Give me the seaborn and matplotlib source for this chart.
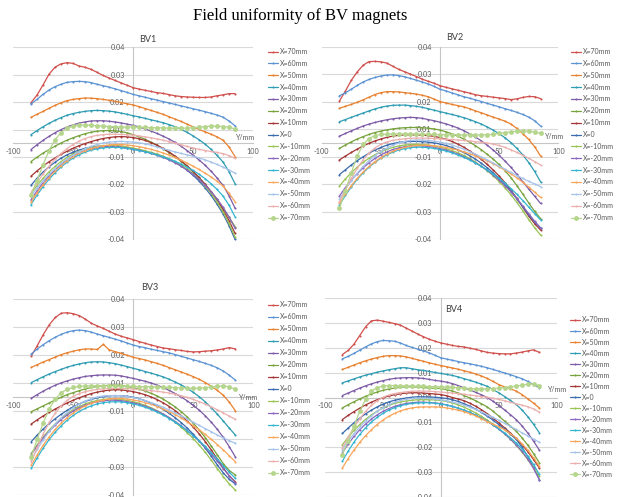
import numpy as np
import matplotlib
matplotlib.use('Agg')
import matplotlib.pyplot as plt
import seaborn as sns

sns.set_theme(style='white')
plt.rcParams['font.family'] = ['Lato', 'DejaVu Sans']

# measuring positions along Y (mm)
y_pos = [-85, -80, -75, -70, -65, -60, -55, -50, -45, -40, -35, -30, -25, -20, -15, -10, -5, 0,
         5, 10, 15, 20, 25, 30, 35, 40, 45, 50, 55, 60, 65, 70, 75, 80, 85]

labels = ['X=70mm', 'X=60mm', 'X=50mm', 'X=40mm', 'X=30mm', 'X=20mm', 'X=10mm', 'X=0',
          'X=-10mm', 'X=-20mm', 'X=-30mm', 'X=-40mm', 'X=-50mm', 'X=-60mm', 'X=-70mm']

colors = ['#d0504d', '#5b93d3', '#e8812f', '#2e9cb3', '#7d5ba6', '#77a33c', '#a33634', '#3a6bae',
          '#98c454', '#8b66bd', '#33b5d0', '#f9a55a', '#a6c3ea', '#ebb0ae', '#b5d58c']

# field uniformity values, in units of 1e-3 (one row per X position)
bv1 = [
    [16.9, 20.1, 24.3, 28.8, 31.7, 33.1, 33.6, 33.3, 32.2, 31.7, 30.8, 29.6, 28.3, 27.2, 26.2, 25.2, 24.2, 23.2, 22.6, 22.1, 21.6, 21.1, 20.8, 20.3, 19.8, 19.5, 19.3, 19.2, 19.1, 19.1, 19.3, 19.8, 20.2, 20.7, 20.7],
    [16.4, 18.3, 20.4, 22.2, 23.6, 24.6, 25.4, 25.7, 25.8, 25.7, 25.3, 24.6, 24.0, 23.4, 22.7, 22.0, 21.2, 20.4, 19.8, 19.2, 18.6, 18.0, 17.4, 16.8, 16.2, 15.6, 15.0, 14.4, 13.8, 13.2, 12.5, 11.8, 10.9, 9.3, 7.3],
    [10.8, 12.1, 13.3, 14.6, 15.8, 16.9, 17.8, 18.3, 18.6, 18.9, 18.8, 18.6, 18.3, 17.9, 17.5, 17.0, 16.5, 16.0, 15.3, 14.5, 13.7, 12.9, 12.1, 11.1, 10.1, 9.1, 8.0, 6.9, 5.8, 4.8, 3.8, 2.7, 1.3, -1.5, -5.5],
    [3.6, 5.3, 6.9, 8.3, 9.6, 10.7, 11.7, 12.4, 12.9, 13.3, 13.6, 13.7, 13.6, 13.4, 13.1, 12.6, 12.1, 11.5, 11.0, 10.4, 9.8, 9.2, 8.6, 7.8, 6.9, 5.8, 4.6, 3.1, 1.5, -0.3, -2.5, -5.0, -7.8, -11.8, -16.8],
    [-2.6, -0.6, 1.2, 2.9, 4.4, 5.7, 6.8, 7.7, 8.4, 8.9, 9.3, 9.4, 9.4, 9.2, 8.9, 8.5, 8.0, 7.5, 6.8, 6.0, 5.1, 4.1, 3.0, 1.8, 0.4, -1.2, -3.0, -4.9, -6.9, -9.1, -11.6, -14.4, -17.5, -21.8, -27.0],
    [-7.6, -5.8, -4.1, -2.6, -1.2, 0.1, 1.3, 2.3, 3.2, 4.0, 4.6, 5.0, 5.3, 5.3, 5.2, 4.9, 4.4, 3.6, 2.7, 1.7, 0.5, -0.8, -2.3, -3.9, -5.6, -7.5, -9.6, -11.9, -14.4, -17.1, -20.1, -23.4, -27.0, -30.8, -34.7],
    [-13.7, -11.5, -9.5, -7.7, -6.1, -4.6, -3.3, -2.1, -1.0, -0.1, 0.7, 1.4, 2.0, 2.4, 2.7, 2.8, 2.7, 2.4, 1.9, 1.2, 0.3, -0.8, -2.1, -3.6, -5.3, -7.2, -9.3, -11.6, -14.2, -17.0, -20.1, -23.6, -27.6, -32.2, -37.5],
    [-17.5, -14.6, -12.0, -9.8, -7.9, -6.2, -4.8, -3.7, -2.8, -2.1, -1.6, -1.3, -1.2, -1.2, -1.3, -1.6, -2.0, -2.3, -2.8, -3.3, -3.9, -4.6, -5.5, -6.6, -7.9, -9.4, -11.2, -13.3, -15.7, -18.5, -21.7, -25.3, -29.4, -34.3, -40.0],
    [-21.0, -17.6, -14.6, -11.9, -9.6, -7.6, -5.9, -4.5, -3.4, -2.5, -1.8, -1.3, -1.0, -0.9, -0.9, -1.1, -1.5, -2.0, -2.5, -3.1, -3.8, -4.5, -5.4, -6.4, -7.6, -9.0, -10.7, -12.7, -15.0, -17.7, -20.8, -24.4, -28.6, -33.4, -38.9],
    [-23.5, -19.8, -16.5, -13.6, -11.1, -8.9, -7.0, -5.4, -4.1, -3.1, -2.3, -1.8, -1.5, -1.4, -1.4, -1.6, -2.0, -2.4, -2.9, -3.5, -4.2, -5.0, -5.9, -6.9, -8.1, -9.5, -11.1, -12.9, -15.0, -17.4, -20.1, -23.1, -26.6, -30.7, -35.4],
    [-25.5, -21.6, -18.1, -15.0, -12.3, -9.9, -7.9, -6.2, -4.8, -3.7, -2.9, -2.3, -1.9, -1.7, -1.7, -1.8, -2.1, -2.5, -3.0, -3.5, -4.1, -4.8, -5.6, -6.5, -7.5, -8.6, -9.9, -11.3, -12.9, -14.7, -16.8, -19.2, -22.0, -25.8, -30.6],
    [-24.5, -20.7, -17.3, -14.3, -11.6, -9.3, -7.3, -5.6, -4.2, -3.1, -2.2, -1.5, -1.0, -0.7, -0.5, -0.5, -0.7, -1.0, -1.4, -1.9, -2.5, -3.2, -4.0, -4.9, -5.9, -7.0, -8.2, -9.5, -10.9, -12.4, -14.0, -15.8, -17.8, -20.8, -24.3],
    [-22.0, -18.6, -15.6, -12.9, -10.5, -8.4, -6.5, -4.9, -3.5, -2.3, -1.3, -0.5, 0.1, 0.5, 0.7, 0.8, 0.7, 0.5, 0.2, -0.2, -0.8, -1.5, -2.2, -2.9, -3.6, -4.2, -4.8, -5.4, -6.1, -6.9, -7.8, -8.8, -9.9, -11.1, -12.4],
    [-20.5, -16.5, -12.8, -9.5, -6.6, -4.2, -2.2, -0.5, 0.9, 2.0, 2.8, 3.3, 3.6, 3.8, 3.8, 3.7, 3.6, 3.4, 3.1, 2.7, 2.3, 1.8, 1.3, 0.7, 0.1, -0.6, -1.3, -1.9, -2.5, -3.0, -3.4, -3.8, -4.3, -5.1, -6.3],
    [-21.5, -15.5, -9.0, -3.0, 1.5, 4.5, 6.3, 7.2, 7.6, 7.6, 7.5, 7.3, 7.2, 7.0, 6.9, 6.8, 6.8, 6.8, 6.7, 6.6, 6.5, 6.5, 6.4, 6.3, 6.2, 6.3, 6.3, 6.5, 6.7, 7.0, 7.1, 7.1, 7.0, 6.8, 5.9],
]

bv2 = [
    [17.4, 21.5, 26.0, 29.5, 32.3, 33.8, 33.9, 33.7, 33.2, 31.9, 30.6, 29.6, 28.6, 27.6, 26.5, 25.6, 24.8, 23.8, 23.1, 22.5, 21.9, 21.3, 20.7, 20.0, 19.6, 19.3, 19.0, 18.7, 18.4, 18.0, 18.3, 18.9, 19.3, 19.2, 18.4],
    [19.6, 20.8, 22.3, 23.9, 25.3, 26.4, 27.2, 27.8, 28.2, 28.3, 28.0, 27.5, 26.8, 26.1, 25.3, 24.5, 23.5, 22.3, 21.6, 20.8, 20.0, 19.2, 18.6, 17.9, 17.2, 16.4, 15.7, 15.0, 14.2, 13.5, 12.7, 11.8, 10.7, 9.2, 7.0],
    [14.4, 15.2, 16.0, 16.9, 17.9, 19.0, 20.1, 20.9, 21.3, 21.3, 21.2, 20.9, 20.6, 20.3, 19.8, 19.2, 18.2, 17.2, 16.6, 16.0, 15.5, 15.0, 14.2, 13.3, 12.5, 11.6, 10.7, 9.9, 9.0, 7.8, 6.0, 3.8, 1.4, -1.6, -5.5],
    [8.8, 9.7, 10.6, 11.5, 12.4, 13.3, 14.1, 14.8, 15.3, 15.6, 15.7, 15.7, 15.5, 15.2, 14.8, 14.2, 13.6, 13.0, 12.4, 11.8, 11.2, 10.5, 9.7, 8.8, 7.8, 6.6, 5.3, 3.8, 2.1, 0.1, -2.3, -5.0, -8.2, -11.9, -16.2],
    [2.8, 3.9, 5.0, 6.0, 7.0, 7.8, 8.5, 9.1, 9.6, 10.0, 10.3, 10.5, 10.6, 10.5, 10.2, 9.7, 9.2, 8.6, 7.9, 7.1, 6.2, 5.1, 3.8, 2.4, 0.8, -1.0, -3.0, -5.2, -7.6, -10.2, -13.1, -16.2, -19.2, -22.2, -25.2],
    [-2.3, -0.9, 0.4, 1.6, 2.6, 3.5, 4.3, 4.9, 5.4, 5.8, 6.1, 6.3, 6.4, 6.4, 6.3, 6.1, 5.8, 5.3, 4.6, 3.8, 2.8, 1.6, 0.3, -1.2, -2.9, -4.8, -6.8, -9.0, -11.6, -14.5, -17.8, -21.3, -25.0, -28.5, -31.5],
    [-7.1, -5.5, -4.0, -2.6, -1.3, -0.2, 0.8, 1.6, 2.3, 2.8, 3.1, 3.3, 3.3, 3.3, 3.2, 3.0, 2.7, 2.2, 1.5, 0.6, -0.5, -1.8, -3.3, -5.0, -6.9, -9.0, -11.3, -13.8, -16.6, -19.7, -23.1, -26.8, -30.5, -33.6, -36.3],
    [-13.2, -11.2, -9.2, -7.4, -5.8, -4.3, -3.0, -1.9, -1.0, -0.3, 0.2, 0.5, 0.6, 0.6, 0.5, 0.3, 0.0, -0.5, -1.1, -1.9, -2.9, -4.0, -5.3, -6.8, -8.5, -10.4, -12.5, -14.8, -17.4, -20.2, -23.3, -26.6, -29.9, -32.8, -35.3],
    [-18.0, -15.0, -12.4, -10.1, -8.1, -6.4, -4.9, -3.7, -2.7, -1.9, -1.3, -0.9, -0.7, -0.6, -0.7, -0.9, -1.3, -1.8, -2.4, -3.2, -4.1, -5.2, -6.5, -8.0, -9.7, -11.6, -13.7, -16.1, -18.7, -21.6, -24.8, -28.3, -31.9, -35.3, -38.4],
    [-22.1, -18.6, -15.5, -12.8, -10.4, -8.3, -6.5, -5.0, -3.8, -2.8, -2.1, -1.6, -1.3, -1.2, -1.3, -1.5, -1.9, -2.4, -3.0, -3.8, -4.7, -5.7, -6.9, -8.3, -9.8, -11.5, -13.4, -15.5, -17.8, -20.4, -23.2, -26.3, -29.5, -32.6, -35.6],
    [-25.9, -21.9, -18.3, -15.2, -12.5, -10.1, -8.1, -6.4, -5.0, -3.9, -3.0, -2.4, -2.0, -1.8, -1.8, -2.0, -2.3, -2.8, -3.4, -4.1, -5.0, -6.0, -7.1, -8.4, -9.8, -11.3, -13.0, -14.8, -16.8, -19.0, -21.4, -24.0, -26.7, -29.4, -32.1],
    [-25.2, -21.3, -17.8, -14.8, -12.1, -9.8, -7.8, -6.1, -4.7, -3.5, -2.6, -1.9, -1.4, -1.1, -1.0, -1.0, -1.2, -1.5, -1.9, -2.4, -3.0, -3.7, -4.5, -5.4, -6.4, -7.5, -8.7, -10.0, -11.4, -12.9, -14.6, -16.4, -18.4, -20.5, -22.7],
    [-23.5, -19.4, -15.8, -12.6, -9.8, -7.4, -5.3, -3.6, -2.2, -1.0, -0.1, 0.6, 1.0, 1.2, 1.2, 1.0, 0.7, 0.3, -0.2, -0.9, -1.7, -2.6, -3.6, -4.7, -5.9, -7.1, -8.4, -9.7, -11.0, -12.3, -13.6, -14.8, -16.0, -17.1, -18.2],
    [-24.5, -19.5, -14.8, -10.6, -7.0, -4.2, -2.1, -0.6, 0.4, 1.0, 1.4, 1.7, 1.9, 2.0, 2.0, 1.9, 1.8, 1.7, 1.5, 1.4, 1.2, 1.0, 0.8, 0.5, 0.2, -0.1, -0.5, -1.1, -1.9, -2.9, -4.0, -5.2, -6.4, -7.8, -9.2],
    [-27.3, -20.0, -12.5, -5.5, -0.6, 1.8, 3.0, 3.5, 3.6, 3.7, 3.7, 3.7, 3.7, 3.6, 3.6, 3.5, 3.5, 3.4, 3.4, 3.4, 3.3, 3.3, 3.3, 3.3, 3.3, 3.4, 3.6, 3.9, 4.3, 4.6, 4.8, 4.9, 4.8, 4.5, 4.0],
]

bv3 = [
    [16.7, 21.0, 25.5, 29.5, 32.5, 34.2, 34.4, 34.0, 33.2, 31.8, 30.1, 29.0, 28.0, 26.8, 25.7, 24.8, 24.1, 23.4, 22.6, 21.9, 21.2, 20.6, 20.0, 19.7, 19.3, 19.0, 18.6, 18.4, 18.5, 18.7, 18.9, 19.2, 19.6, 20.2, 19.6],
    [17.6, 19.6, 21.4, 23.0, 24.4, 25.6, 26.5, 27.1, 27.3, 27.1, 26.5, 25.7, 25.0, 24.3, 23.6, 22.9, 22.0, 21.2, 20.6, 20.1, 19.5, 19.0, 18.5, 18.0, 17.3, 16.6, 15.9, 15.2, 14.5, 13.7, 12.9, 11.9, 10.6, 8.9, 6.9],
    [12.1, 13.2, 14.3, 15.3, 16.3, 17.3, 18.1, 18.7, 19.3, 19.6, 19.6, 19.4, 21.5, 19.2, 18.5, 17.8, 17.0, 16.2, 15.7, 15.1, 14.4, 13.7, 12.9, 12.0, 11.1, 10.2, 9.3, 8.3, 7.2, 5.9, 4.4, 2.7, 0.7, -2.1, -5.6],
    [5.9, 7.1, 8.3, 9.4, 10.4, 11.3, 12.2, 12.9, 13.5, 14.0, 14.3, 14.4, 14.3, 14.0, 13.6, 13.0, 12.4, 11.7, 11.1, 10.4, 9.7, 9.0, 8.2, 7.2, 6.1, 4.9, 3.5, 1.9, 0.1, -2.0, -4.4, -7.0, -9.8, -12.7, -15.5],
    [-0.5, 1.0, 2.4, 3.7, 4.8, 5.8, 6.6, 7.3, 7.9, 8.4, 8.7, 8.9, 9.0, 9.0, 8.9, 8.6, 8.1, 7.6, 7.0, 6.4, 5.7, 4.8, 3.8, 2.7, 1.4, 0.0, -1.6, -3.4, -5.4, -7.7, -10.3, -13.2, -16.5, -20.3, -24.4],
    [-6.0, -4.8, -3.6, -2.4, -1.2, -0.1, 1.0, 1.8, 2.6, 3.3, 3.9, 4.3, 4.6, 4.8, 4.9, 4.7, 4.3, 3.8, 3.2, 2.4, 1.5, 0.4, -0.9, -2.4, -4.1, -6.0, -8.2, -10.7, -13.5, -16.6, -20.0, -23.6, -27.2, -30.0, -31.8],
    [-11.0, -9.3, -7.7, -6.2, -4.9, -3.6, -2.4, -1.3, -0.3, 0.6, 1.4, 2.0, 2.5, 2.8, 3.0, 2.9, 2.6, 2.2, 1.6, 0.9, 0.0, -1.1, -2.4, -3.9, -5.6, -7.6, -9.8, -12.3, -15.1, -18.2, -21.6, -25.3, -29.0, -32.2, -34.6],
    [-18.2, -15.5, -13.0, -10.8, -8.8, -7.0, -5.4, -4.0, -2.8, -1.8, -1.0, -0.3, 0.2, 0.5, 0.6, 0.5, 0.3, -0.1, -0.7, -1.5, -2.5, -3.7, -5.1, -6.7, -8.5, -10.5, -12.7, -15.2, -17.9, -20.9, -24.2, -27.7, -31.0, -33.6, -35.5],
    [-23.0, -19.4, -16.2, -13.4, -10.9, -8.7, -6.8, -5.2, -3.9, -2.8, -2.0, -1.4, -1.0, -0.8, -0.8, -1.0, -1.4, -1.9, -2.6, -3.4, -4.4, -5.6, -7.0, -8.6, -10.4, -12.4, -14.6, -17.0, -19.7, -22.6, -25.8, -29.2, -32.5, -35.5, -38.0],
    [-23.5, -19.9, -16.7, -13.9, -11.4, -9.2, -7.3, -5.7, -4.4, -3.3, -2.5, -1.9, -1.5, -1.3, -1.3, -1.5, -1.9, -2.4, -3.0, -3.8, -4.7, -5.8, -7.0, -8.4, -10.0, -11.8, -13.7, -15.8, -18.1, -20.6, -23.3, -26.2, -29.2, -32.2, -35.0],
    [-29.1, -24.7, -20.8, -17.3, -14.3, -11.7, -9.4, -7.5, -5.9, -4.6, -3.6, -2.8, -2.3, -2.0, -1.9, -2.0, -2.3, -2.8, -3.4, -4.2, -5.1, -6.2, -7.4, -8.8, -10.3, -12.0, -13.8, -15.8, -17.9, -20.2, -22.7, -25.3, -28.0, -30.7, -33.2],
    [-27.8, -23.5, -19.6, -16.2, -13.2, -10.6, -8.4, -6.5, -4.9, -3.6, -2.6, -1.8, -1.2, -0.8, -0.6, -0.6, -0.8, -1.2, -1.7, -2.3, -3.0, -3.9, -4.9, -6.0, -7.2, -8.6, -10.1, -11.7, -13.4, -15.3, -17.3, -19.4, -21.6, -24.0, -26.4],
    [-25.7, -21.3, -17.4, -14.0, -11.0, -8.4, -6.2, -4.3, -2.8, -1.6, -0.7, 0.0, 0.4, 0.6, 0.6, 0.5, 0.2, -0.2, -0.8, -1.5, -2.3, -3.2, -4.2, -5.3, -6.5, -7.7, -9.0, -10.3, -11.6, -12.9, -14.2, -15.5, -16.7, -17.8, -18.9],
    [-26.4, -20.5, -15.0, -10.3, -6.5, -3.5, -1.3, 0.3, 1.4, 2.2, 2.7, 3.1, 3.3, 3.5, 3.5, 3.5, 3.4, 3.3, 3.1, 2.9, 2.6, 2.3, 2.0, 1.6, 1.1, 0.5, -0.2, -1.0, -1.9, -2.9, -4.0, -5.2, -6.5, -7.8, -9.1],
    [-24.4, -17.0, -10.5, -4.8, -0.8, 1.8, 3.2, 3.9, 4.3, 4.5, 4.6, 4.6, 4.6, 4.5, 4.5, 4.4, 4.4, 4.3, 4.2, 4.2, 4.2, 4.1, 4.0, 3.9, 3.8, 3.7, 3.6, 3.5, 3.6, 3.8, 4.1, 4.4, 4.5, 4.2, 3.1],
]

bv4 = [
    [17.3, 19.0, 21.5, 25.0, 28.5, 30.9, 31.2, 30.8, 30.3, 29.8, 29.2, 28.0, 26.8, 25.6, 24.5, 23.5, 22.7, 22.0, 21.5, 21.0, 20.6, 20.4, 19.9, 19.4, 18.8, 18.2, 17.9, 17.7, 17.6, 17.6, 17.9, 18.3, 18.8, 19.2, 18.2],
    [15.6, 16.6, 17.8, 19.1, 20.4, 21.6, 22.5, 23.0, 22.9, 22.7, 22.0, 21.0, 20.2, 19.5, 18.8, 18.0, 17.0, 16.0, 15.5, 15.0, 14.5, 14.0, 13.6, 13.1, 12.6, 12.0, 11.3, 10.6, 9.9, 9.2, 8.4, 7.6, 6.5, 5.2, 3.9],
    [11.3, 12.2, 13.1, 14.0, 14.8, 15.5, 16.1, 16.6, 16.9, 16.9, 16.8, 16.4, 15.8, 15.2, 14.6, 14.0, 13.4, 12.9, 12.4, 11.9, 11.4, 10.8, 10.2, 9.5, 8.7, 7.7, 6.5, 5.2, 4.3, 3.5, 2.6, 1.2, -0.5, -2.3, -4.2],
    [5.9, 6.7, 7.5, 8.3, 9.0, 9.6, 10.2, 10.7, 11.2, 11.6, 12.0, 12.0, 11.6, 11.2, 10.9, 10.5, 10.1, 9.7, 9.3, 8.9, 8.3, 7.6, 6.9, 6.2, 5.4, 4.5, 3.2, 1.9, 0.4, -1.2, -2.8, -5.0, -7.7, -10.8, -14.2],
    [0.8, 1.8, 2.8, 3.8, 4.7, 5.5, 6.2, 6.8, 7.3, 7.7, 7.9, 8.0, 8.0, 7.9, 7.7, 7.3, 6.9, 6.6, 6.2, 5.6, 4.8, 3.9, 3.1, 2.1, 1.1, 0.0, -1.5, -3.2, -5.0, -6.9, -8.9, -11.4, -14.3, -17.6, -21.2],
    [-4.2, -2.9, -1.7, -0.6, 0.5, 1.4, 2.2, 2.9, 3.4, 3.8, 4.1, 4.3, 4.3, 4.2, 4.0, 3.8, 3.7, 3.6, 3.2, 2.6, 1.8, 0.8, -0.2, -1.3, -2.5, -3.8, -5.5, -7.5, -9.5, -11.5, -13.6, -16.2, -19.2, -22.6, -26.3],
    [-8.9, -7.2, -5.7, -4.3, -3.0, -1.9, -0.9, -0.1, 0.6, 1.1, 1.5, 1.8, 1.9, 1.9, 1.8, 1.6, 1.4, 1.2, 0.7, 0.0, -0.6, -1.3, -2.3, -3.5, -4.9, -6.5, -8.3, -10.2, -12.2, -14.3, -16.5, -19.0, -21.8, -25.0, -28.4],
    [-14.5, -12.3, -10.2, -8.3, -6.6, -5.1, -3.8, -2.7, -1.8, -1.1, -0.6, -0.2, 0.1, 0.3, 0.3, 0.2, 0.1, -0.1, -0.4, -0.9, -1.6, -2.5, -3.5, -4.7, -6.0, -7.5, -9.1, -10.9, -12.8, -14.8, -16.9, -20.0, -23.8, -28.2, -33.1],
    [-19.0, -16.0, -13.3, -10.9, -8.8, -7.0, -5.5, -4.2, -3.2, -2.4, -1.8, -1.4, -1.1, -0.9, -0.9, -0.9, -1.0, -1.2, -1.6, -2.2, -3.0, -3.9, -5.0, -6.2, -7.6, -9.1, -10.8, -12.6, -14.6, -16.8, -19.2, -22.0, -25.0, -28.3, -31.7],
    [-22.3, -18.8, -15.7, -13.0, -10.7, -8.7, -7.0, -5.6, -4.5, -3.6, -2.9, -2.4, -2.1, -1.9, -1.9, -2.0, -2.2, -2.5, -3.0, -3.6, -4.3, -5.1, -6.0, -7.1, -8.3, -9.6, -11.1, -12.8, -14.6, -16.7, -19.0, -21.7, -24.8, -28.6, -33.1],
    [-25.7, -21.6, -18.0, -14.9, -12.2, -9.9, -8.0, -6.4, -5.1, -4.1, -3.3, -2.8, -2.4, -2.2, -2.1, -2.1, -2.3, -2.6, -3.0, -3.6, -4.3, -5.1, -6.0, -7.1, -8.3, -9.6, -11.0, -12.6, -14.3, -16.2, -18.3, -20.7, -23.6, -27.0, -31.0],
    [-28.4, -24.6, -21.2, -18.1, -15.4, -13.0, -10.9, -9.1, -7.6, -6.4, -5.4, -4.7, -4.2, -3.9, -3.8, -3.8, -3.8, -3.9, -4.2, -4.6, -5.1, -5.7, -6.5, -7.4, -8.5, -9.7, -10.8, -11.7, -13.0, -14.6, -16.3, -18.6, -21.2, -24.3, -27.7],
    [-21.0, -17.6, -14.6, -11.9, -9.5, -7.4, -5.6, -4.1, -2.9, -1.9, -1.2, -0.7, -0.4, -0.3, -0.3, -0.4, -0.6, -0.9, -1.3, -1.8, -2.4, -3.1, -3.9, -4.8, -5.8, -6.9, -8.0, -9.2, -10.4, -11.6, -12.9, -14.2, -15.5, -16.8, -18.0],
    [-20.3, -16.0, -12.0, -8.6, -5.6, -3.2, -1.3, 0.1, 1.0, 1.6, 2.0, 2.3, 2.5, 2.6, 2.6, 2.5, 2.4, 2.2, 2.0, 1.8, 1.6, 1.3, 1.0, 0.7, 0.4, 0.1, -0.3, -0.8, -1.3, -1.9, -2.5, -3.1, -3.7, -4.6, -5.9],
    [-23.0, -17.5, -11.5, -5.5, -0.8, 2.5, 4.0, 4.6, 4.8, 4.8, 4.7, 4.7, 4.6, 4.5, 4.5, 4.4, 4.4, 4.3, 4.2, 4.1, 3.9, 3.8, 3.6, 3.5, 3.5, 3.5, 3.6, 3.8, 4.0, 4.3, 4.6, 5.0, 5.4, 5.5, 4.8],
]

W, H = 620, 497
fig = plt.figure(figsize=(W / 100, H / 100), dpi=100)
fig.patch.set_facecolor('white')


def fx(px):
    return px / W


def fy(py):
    return 1 - py / H


txt = '#595959'

# (data, name, axes box in px: left, right, top, bottom, excel-style ticks?,
#  title xy, Y/mm xy, legend top-left xy, legend row spacing)
panels = [
    (bv1, 'BV1', (13, 253, 47.3, 239.3), True, (148, 40), (246, 138), (268, 48), 0.70),
    (bv2, 'BV2', (321.7, 558.3, 46.7, 239), True, (455, 37), (555, 137), (571, 48), 0.70),
    (bv3, 'BV3', (13.3, 253.3, 299, 495), True, (150, 287), (249, 398), (268, 301), 0.72),
    (bv4, 'BV4', (325, 556.7, 298.3, 496.7), False, (454, 309), (558, 389), (570, 316.5), 0.58),
]

for data, name, box, odd_ticks, t_xy, u_xy, l_xy, lsp in panels:
    x0, x1, yt, yb = box
    ax = fig.add_axes([fx(x0), fy(yb), (x1 - x0) / W, (yb - yt) / H])
    ax.patch.set_alpha(0)
    for i, row in enumerate(data):
        big = i == len(data) - 1
        sns.lineplot(x=y_pos, y=np.array(row) * 1e-3, ax=ax, color=colors[i], lw=0.9,
                     marker='o', markersize=3.5 if big else 1.5, markeredgewidth=0,
                     estimator=None, label=labels[i], clip_on=False, zorder=3)

    ax.set_xlim(-100, 100)
    ax.set_ylim(-0.04, 0.04)
    ax.set_xticks([-100, -50, 0, 50, 100])
    ax.set_xticklabels(['-100', '-50', '0', '50', '100'])
    if odd_ticks:
        # 8 gridlines between -0.04 and 0.04, labels rounded to 2 decimals
        yt_vals = np.linspace(-0.04, 0.04, 8)
    else:
        yt_vals = np.round(np.arange(-0.04, 0.0401, 0.01), 2)
    ax.set_yticks(yt_vals)
    ax.set_yticklabels(['%.2f' % (v + 0.0) for v in yt_vals])
    ax.set_xlabel('')
    ax.set_ylabel('')

    for s in ['top', 'right']:
        ax.spines[s].set_visible(False)
    ax.spines['left'].set_position(('data', 0))
    ax.spines['bottom'].set_position(('data', 0))
    for s in ['left', 'bottom']:
        ax.spines[s].set_color('#c6c6c6')
        ax.spines[s].set_linewidth(0.8)
        ax.spines[s].set_zorder(2)
    ax.grid(axis='y', color='#d9d9d9', lw=0.8)
    ax.grid(axis='x', visible=False)
    ax.set_axisbelow(True)
    ax.tick_params(axis='both', length=0, labelsize=5.2, labelcolor=txt)
    ax.tick_params(axis='x', pad=3.5)
    ax.tick_params(axis='y', pad=6)

    fig.text(fx(t_xy[0]), fy(t_xy[1]), name, ha='center', va='center', fontsize=6.5, color='#404040')
    fig.text(fx(u_xy[0]), fy(u_xy[1]), 'Y/mm', ha='center', va='center', fontsize=5, color=txt)

    handles, _ = ax.get_legend_handles_labels()
    ax.legend(handles, labels, loc='upper left', bbox_to_anchor=(fx(l_xy[0]), fy(l_xy[1])),
              bbox_transform=fig.transFigure, frameon=False, fontsize=5, borderaxespad=0,
              borderpad=0, handlelength=1.4, handletextpad=0.3, labelspacing=lsp,
              labelcolor=txt)

fig.text(fx(300), fy(19.5), 'Field uniformity of BV magnets', ha='center', va='baseline',
         fontsize=12, family='Liberation Serif', color='black')

fig.savefig('out.png', dpi=100, facecolor='white')
